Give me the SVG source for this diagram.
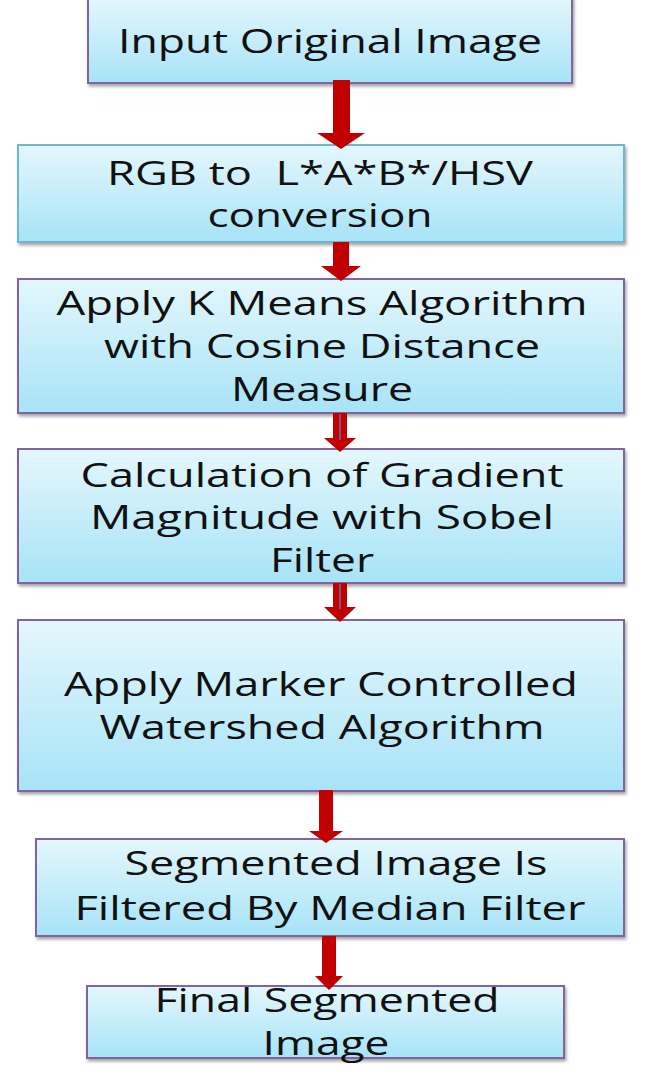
<svg xmlns="http://www.w3.org/2000/svg" width="646" height="1079" viewBox="0 0 646 1079">
<defs>
<linearGradient id="fillGrad" x1="0" y1="0" x2="0" y2="1">
<stop offset="0" stop-color="#e4f7fd"/>
<stop offset="1" stop-color="#a7e3f7"/>
</linearGradient>
<filter id="shadow" x="-5%" y="-5%" width="110%" height="120%">
<feDropShadow dx="1.5" dy="2.5" stdDeviation="1.5" flood-color="#000" flood-opacity="0.35"/>
</filter>
<style>
.box{fill:url(#fillGrad);stroke:#8064a2;stroke-width:2;filter:url(#shadow)}
.box2{stroke:#6cb8d2}
.lbl{font-family:"Open Sans","Noto Sans","Liberation Sans",sans-serif;font-size:33px;fill:#111;text-anchor:middle}
.arrow{fill:#c00000}
.seam{stroke:#6b6fb0;stroke-width:1.5}
</style>
</defs>
<rect width="646" height="1079" fill="#ffffff"/>
<g id="node-input">
<rect class="box" x="88" y="-3" width="484" height="86"/>
<text class="lbl" x="330" y="53" textLength="424" lengthAdjust="spacingAndGlyphs">Input Original Image</text>
</g>
<g id="node-rgb">
<rect class="box box2" x="18" y="145" width="606" height="97"/>
<text class="lbl" x="320" y="185" textLength="426" lengthAdjust="spacingAndGlyphs" xml:space="preserve">RGB to  L*A*B*/HSV</text>
<text class="lbl" x="320" y="227" textLength="225" lengthAdjust="spacingAndGlyphs">conversion</text>
</g>
<g id="node-kmeans">
<rect class="box" x="18" y="279" width="606" height="134"/>
<text class="lbl" x="322" y="315" textLength="531" lengthAdjust="spacingAndGlyphs">Apply K Means Algorithm</text>
<text class="lbl" x="322" y="358" textLength="436" lengthAdjust="spacingAndGlyphs">with Cosine Distance</text>
<text class="lbl" x="322" y="401" textLength="182" lengthAdjust="spacingAndGlyphs">Measure</text>
</g>
<g id="node-gradient">
<rect class="box" x="18" y="449" width="606" height="134"/>
<text class="lbl" x="322" y="487" textLength="483" lengthAdjust="spacingAndGlyphs">Calculation of Gradient</text>
<text class="lbl" x="322" y="529" textLength="464" lengthAdjust="spacingAndGlyphs">Magnitude with Sobel</text>
<text class="lbl" x="322" y="572" textLength="104" lengthAdjust="spacingAndGlyphs">Filter</text>
</g>
<g id="node-watershed">
<rect class="box" x="18" y="620" width="606" height="171"/>
<text class="lbl" x="321" y="696" textLength="514" lengthAdjust="spacingAndGlyphs">Apply Marker Controlled</text>
<text class="lbl" x="322" y="739" textLength="445" lengthAdjust="spacingAndGlyphs">Watershed Algorithm</text>
</g>
<g id="node-median">
<rect class="box" x="36" y="839" width="588" height="97"/>
<text class="lbl" x="336" y="875" textLength="423" lengthAdjust="spacingAndGlyphs">Segmented Image Is</text>
<text class="lbl" x="330" y="920" textLength="511" lengthAdjust="spacingAndGlyphs">Filtered By Median Filter</text>
</g>
<g id="node-final">
<rect class="box" x="87" y="986" width="477" height="72"/>
<text class="lbl" x="327" y="1012" textLength="345" lengthAdjust="spacingAndGlyphs">Final Segmented</text>
<text class="lbl" x="326" y="1055" textLength="127" lengthAdjust="spacingAndGlyphs">Image</text>
</g>
<g id="connectors">
<polygon class="arrow" points="333,80 350,80 350,133 365,133 341,149 317,133 333,133"/>
<polygon class="arrow" points="333,242 349,242 349,266 361,266 341,281 321,266 333,266"/>
<polygon class="arrow" points="333,413 347,413 347,438 356,438 340,452 324,438 333,438"/>
<line class="seam" x1="340" y1="414" x2="340" y2="440"/>
<polygon class="arrow" points="333,583 347,583 347,607 356,607 340,622 324,607 333,607"/>
<line class="seam" x1="340" y1="584" x2="340" y2="609"/>
<polygon class="arrow" points="319,790 333,790 333,831 343,831 326,843 309,831 319,831"/>
<polygon class="arrow" points="322,936 336,936 336,976 343,976 329,990 315,976 322,976"/>
</g>
</svg>
